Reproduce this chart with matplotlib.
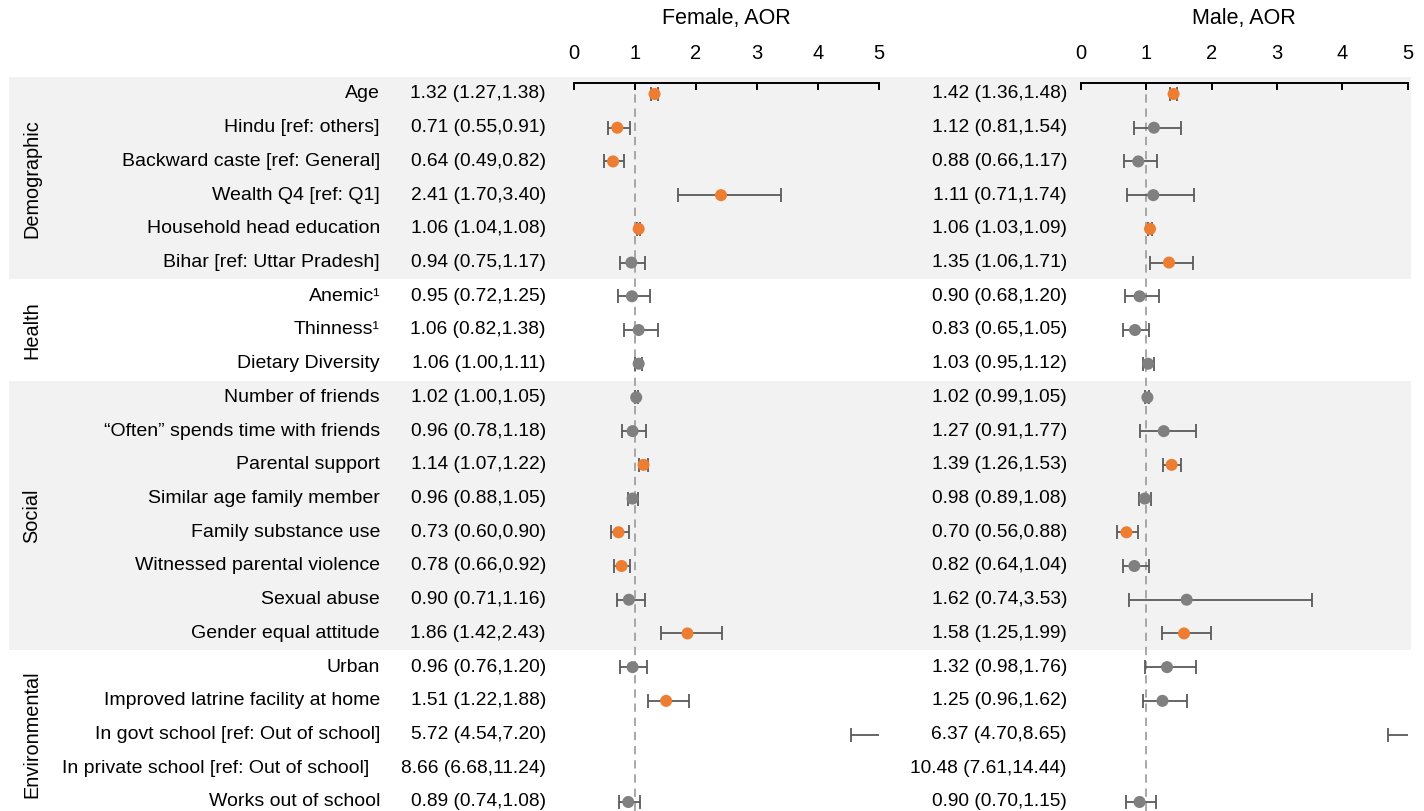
import matplotlib
matplotlib.use("Agg")
import matplotlib.pyplot as plt
import numpy as np

plt.rcParams['font.family'] = ['Liberation Sans', 'DejaVu Sans']

labels = ["Age", "Hindu [ref: others]", "Backward caste [ref: General]", "Wealth Q4 [ref: Q1]",
          "Household head education", "Bihar [ref: Uttar Pradesh]",
          "Anemic\u00b9", "Thinness\u00b9", "Dietary Diversity",
          "Number of friends", "\u201cOften\u201d spends time with friends", "Parental support",
          "Similar age family member", "Family substance use", "Witnessed parental violence",
          "Sexual abuse", "Gender equal attitude",
          "Urban", "Improved latrine facility at home", "In govt school [ref: Out of school]",
          "In private school [ref: Out of school]  ", "Works out of school"]

groups = ["Demographic", "Health", "Social", "Environmental"]
group_sizes = [6, 3, 8, 5]
shaded_groups = ["Demographic", "Social"]

f_aor = [1.32, 0.71, 0.64, 2.41, 1.06, 0.94, 0.95, 1.06, 1.06, 1.02, 0.96, 1.14, 0.96, 0.73, 0.78, 0.90, 1.86, 0.96, 1.51, 5.72, 8.66, 0.89]
f_lo  = [1.27, 0.55, 0.49, 1.70, 1.04, 0.75, 0.72, 0.82, 1.00, 1.00, 0.78, 1.07, 0.88, 0.60, 0.66, 0.71, 1.42, 0.76, 1.22, 4.54, 6.68, 0.74]
f_hi  = [1.38, 0.91, 0.82, 3.40, 1.08, 1.17, 1.25, 1.38, 1.11, 1.05, 1.18, 1.22, 1.05, 0.90, 0.92, 1.16, 2.43, 1.20, 1.88, 7.20, 11.24, 1.08]

m_aor = [1.42, 1.12, 0.88, 1.11, 1.06, 1.35, 0.90, 0.83, 1.03, 1.02, 1.27, 1.39, 0.98, 0.70, 0.82, 1.62, 1.58, 1.32, 1.25, 6.37, 10.48, 0.90]
m_lo  = [1.36, 0.81, 0.66, 0.71, 1.03, 1.06, 0.68, 0.65, 0.95, 0.99, 0.91, 1.26, 0.89, 0.56, 0.64, 0.74, 1.25, 0.98, 0.96, 4.70, 7.61, 0.70]
m_hi  = [1.48, 1.54, 1.17, 1.74, 1.09, 1.71, 1.20, 1.05, 1.12, 1.05, 1.77, 1.53, 1.08, 0.88, 1.04, 3.53, 1.99, 1.76, 1.62, 8.65, 14.44, 1.15]

xticks = [0, 1, 2, 3, 4, 5]

ORANGE = "#ED7D31"
GRAY = "#808080"
ERR = "#5A5A5A"
SHADE = "#F2F2F2"

W, H = 1424, 811
ROW0, DROW = 94.0, 33.714
FS = 14


def row(px):
    return (px - ROW0) / DROW


fig = plt.figure(figsize=(W / 100, H / 100), dpi=100)

bg = fig.add_axes([0, 0, 1, 1])
bg.set_xlim(0, W)
bg.set_ylim(row(H), row(0))
bg.axis('off')

n = len(labels)
ys = np.arange(n)

# group shading and labels
start = 0
for g, s in zip(groups, group_sizes):
    if g in shaded_groups:
        bg.fill_between([9, 1411], start - 0.5, start + s - 0.5, color=SHADE, lw=0, zorder=0)
    bg.text(32, start + (s - 1) / 2, g, rotation=90, ha='center', va='center', fontsize=14.3)
    start += s

for i in range(n):
    bg.text(380, i, labels[i], ha='right', va='center', fontsize=FS)
    bg.text(546, i, f"{f_aor[i]:.2f} ({f_lo[i]:.2f},{f_hi[i]:.2f})", ha='right', va='center', fontsize=13.8)
    bg.text(1067, i, f"{m_aor[i]:.2f} ({m_lo[i]:.2f},{m_hi[i]:.2f})", ha='right', va='center', fontsize=13.8)


def panel(x0, x1, title, aor, lo, hi):
    top_px = 83
    ax = fig.add_axes([x0 / W, 0, (x1 - x0) / W, (H - top_px) / H])
    ax.set_facecolor('none')
    ax.set_xlim(0, 5)
    ax.set_ylim(row(H), row(top_px))
    aor = np.array(aor); lo = np.array(lo); hi = np.array(hi)
    ax.axvline(1, color='#9A9A9A', ls=(0, (5, 3.5)), lw=1.2, zorder=1)
    ax.errorbar(aor, ys, xerr=[aor - lo, hi - aor], fmt='none', ecolor=ERR,
                elinewidth=1.3, capsize=5, capthick=1.3, zorder=2)
    sig = (lo > 1) | (hi < 1)
    cols = [ORANGE if s else GRAY for s in sig]
    ax.scatter(aor, ys, s=75, c=cols, zorder=3, linewidths=0)
    for sp in ['bottom', 'left', 'right']:
        ax.spines[sp].set_visible(False)
    ax.spines['top'].set_linewidth(1.4)
    ax.xaxis.set_ticks_position('top')
    ax.set_xticks(xticks)
    ax.tick_params(axis='x', direction='in', length=5, width=1.4, pad=14.5, labelsize=14.5)
    ax.set_yticks([])
    bg.text((x0 + x1) / 2, row(19), title, ha='center', va='center', fontsize=15.5)
    return ax


panel(574, 879, "Female, AOR", f_aor, f_lo, f_hi)
panel(1080.7, 1407.7, "Male, AOR", m_aor, m_lo, m_hi)

fig.savefig("out.png", dpi=100)
